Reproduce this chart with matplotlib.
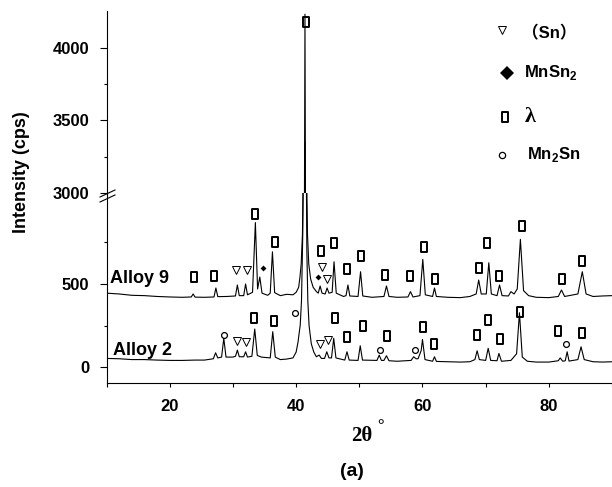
import numpy as np
import matplotlib
matplotlib.use("Agg")
import matplotlib.pyplot as plt
from matplotlib.path import Path
from matplotlib.lines import Line2D

plt.rcParams['font.family'] = ['Liberation Sans', 'Noto Sans CJK SC', 'DejaVu Sans']
plt.rcParams['font.weight'] = 'bold'
plt.rcParams['mathtext.fontset'] = 'custom'
plt.rcParams['mathtext.rm'] = 'Liberation Sans:bold'
plt.rcParams['mathtext.bf'] = 'Liberation Sans:bold'

# XRD traces: (2theta, counts)
alloy9 = [(10, 445), (12, 440), (14, 432), (16, 430), (18, 425), (20, 422), (22, 420),
          (23.4, 422), (23.7, 440), (24.0, 421), (25.5, 420), (27.0, 422), (27.3, 476),
          (27.6, 424), (29.0, 425), (30.4, 428), (30.7, 494), (31.0, 430), (31.7, 430),
          (32.0, 500), (32.3, 435), (33.1, 450), (33.55, 870), (33.9, 470), (34.25, 542),
          (34.6, 445), (35.5, 432), (35.9, 445), (36.25, 694), (36.6, 448), (37.5, 430),
          (38.5, 438), (39.5, 435), (40.0, 450), (40.4, 480), (40.6, 540), (40.8, 620),
          (41.0, 800), (41.15, 1200), (41.27, 2200), (41.4, 4230), (41.53, 2200),
          (41.65, 1200), (41.8, 800), (42.0, 620), (42.3, 530), (42.7, 480), (43.2, 455),
          (43.5, 445), (43.8, 488), (44.1, 445),
          (44.6, 440), (44.9, 476), (45.2, 445), (45.7, 450), (46.0, 634), (46.35, 445),
          (47.5, 425), (47.9, 430), (48.2, 494), (48.5, 428), (49.8, 425), (50.2, 574),
          (50.55, 428), (52, 420), (53.9, 425), (54.3, 488), (54.7, 425), (56, 420),
          (57.7, 422), (58.1, 454), (58.5, 422), (59.6, 430), (60.05, 648), (60.45, 435),
          (61.6, 425), (61.9, 476), (62.2, 425), (64, 420), (66, 418), (67.5, 425),
          (68.5, 440), (68.9, 524), (69.3, 440), (70.1, 440), (70.5, 628), (70.9, 440),
          (71.8, 430), (72.2, 494), (72.6, 430), (73.6, 428), (74.0, 454), (74.5, 440),
          (75.0, 470), (75.5, 769), (76.0, 460), (76.8, 430), (78, 420), (80, 418),
          (81.5, 425), (82.0, 464), (82.5, 425), (84.6, 440), (85.3, 574), (85.9, 440),
          (87, 425), (88.5, 428), (90, 430)]

alloy2 = [(10, 52), (12, 50), (14, 45), (16, 45), (18, 42), (20, 40), (22, 40), (24, 42),
          (25.5, 42), (26.9, 50), (27.25, 86), (27.6, 55), (28.2, 60), (28.55, 173),
          (28.9, 60), (30.0, 60), (30.4, 65), (30.7, 102), (31.0, 62), (31.7, 62),
          (32.0, 92), (32.3, 60), (33.0, 65), (33.45, 229), (33.85, 70), (34.5, 60),
          (35.9, 55), (36.3, 213), (36.7, 60), (37.5, 45), (38.5, 48), (39.5, 55),
          (40.0, 90), (40.3, 150), (40.5, 210), (40.65, 253), (40.85, 400), (41.05, 800),
          (41.2, 1500), (41.4, 3350), (41.55, 1500), (41.7, 700), (41.85, 400),
          (42.05, 250), (42.4, 140), (42.8, 90), (43.2, 62), (43.65, 72), (44.0, 52),
          (44.5, 52), (44.85, 92),
          (45.2, 55), (45.6, 55), (45.95, 173), (46.3, 55), (47.7, 42), (48.05, 92),
          (48.4, 42), (49.8, 40), (50.15, 128), (50.5, 42), (52.8, 40), (53.15, 72),
          (53.5, 40), (53.9, 40), (54.3, 68), (54.7, 38), (56, 35), (58.2, 40), (58.6, 62),
          (59.0, 50), (59.3, 50), (59.8, 100), (60.0, 166), (60.4, 45), (61.6, 35),
          (61.9, 62), (62.2, 34), (64, 32), (66, 30), (67.5, 32), (68.3, 45), (68.65, 98),
          (69.0, 45), (70.0, 40), (70.4, 113), (70.8, 40), (71.8, 38), (72.1, 82),
          (72.5, 35), (74.0, 40), (74.9, 80), (75.35, 327), (75.8, 60), (76.6, 35),
          (78, 30), (80, 30), (81.5, 38), (81.8, 55), (82.2, 35), (82.6, 38), (82.9, 92),
          (83.2, 36), (84.6, 45), (85.1, 122), (85.6, 45), (87, 32), (88.5, 30), (90, 32)]

# phase markers (2theta, y)
lambda_marks = [(23.8, 544), (27.0, 548), (33.5, 920), (36.6, 751), (43.9, 700), (46.0, 745),
                (48.05, 590), (50.3, 669), (54.1, 554), (58.1, 550), (60.3, 725), (62.0, 530),
                (68.9, 594), (70.2, 745), (72.1, 550), (75.7, 849), (82.1, 530), (85.3, 640),
                (33.35, 293), (36.5, 279), (46.1, 293), (48.1, 183), (50.6, 249), (54.4, 187),
                (60.07, 243), (61.9, 139), (68.66, 193), (70.3, 283), (72.3, 166), (75.45, 333),
                (81.5, 219), (85.2, 203)]
lambda_top = [(41.57, 4173)]
sn_marks = [(30.45, 584), (32.15, 584), (44.05, 600), (44.95, 530),
            (30.7, 157), (32.0, 149), (43.85, 136), (45.0, 163)]
mnsn2_marks = [(34.8, 594), (43.5, 540)]
mn2sn_marks = [(28.55, 193), (39.8, 323), (53.3, 102), (58.85, 102), (82.7, 139)]

rect = Path([(-0.33, -0.5), (0.33, -0.5), (0.33, 0.5), (-0.33, 0.5), (-0.33, -0.5)],
            [Path.MOVETO, Path.LINETO, Path.LINETO, Path.LINETO, Path.CLOSEPOLY])

W, H = 612, 487
fig = plt.figure(figsize=(W / 100, H / 100), dpi=100)
left, right = 106.6 / W, 1.0
y_axis, y_break, y_top = 1 - 383 / H, 1 - 193 / H, 1 - 11 / H
ax_b = fig.add_axes([left, y_axis, right - left, y_break - y_axis])
ax_t = fig.add_axes([left, y_break, right - left, y_top - y_break], sharex=ax_b)

for ax in (ax_b, ax_t):
    for data in (alloy9, alloy2):
        xs, ys = np.array(data).T
        ax.plot(xs, ys, color='black', lw=0.8)
    ax.spines['top'].set_visible(False)
    ax.spines['right'].set_visible(False)
    ax.tick_params(axis='y', which='major', direction='out', length=7 * 0.72, width=0.8,
                   labelsize=12, pad=7.5)
    ax.tick_params(axis='y', which='minor', direction='out', length=3.5 * 0.72, width=0.8)

def marks(ax, pts, **kw):
    xs, ys = np.array(pts).T
    ax.plot(xs, ys, ls='none', color='black', clip_on=False, **kw)

marks(ax_b, lambda_marks, marker=rect, ms=7.5, mfc='none', mew=1.4)
marks(ax_t, lambda_top, marker=rect, ms=7.5, mfc='none', mew=1.4)
marks(ax_b, sn_marks, marker='v', ms=6, mfc='none', mew=0.7)
marks(ax_b, mnsn2_marks, marker='D', ms=3, mfc='black', mew=0)
marks(ax_b, mn2sn_marks, marker='o', ms=4.2, mfc='none', mew=0.9)

ax_t.spines['bottom'].set_visible(False)
ax_t.set_ylim(3000, 4252)
ax_t.set_yticks([3000, 3500, 4000])
ax_t.set_yticks([3250, 3750], minor=True)
ax_t.tick_params(axis='x', which='both', bottom=False, labelbottom=False)

ax_b.set_ylim(-96, 1048)
ax_b.set_yticks([0, 500])
ax_b.set_yticks([250, 750], minor=True)
ax_b.set_xlim(10, 90)
ax_b.set_xticks([20, 40, 60, 80])
ax_b.set_xticks([10, 30, 50, 70, 90], minor=True)
ax_b.tick_params(axis='x', which='both', direction='out', length=3.5 * 0.72, width=0.8,
                 labelsize=12, pad=9)
for lbl in ax_b.get_xticklabels() + ax_b.get_yticklabels() + ax_t.get_yticklabels():
    lbl.set_fontweight('bold')

# axis break marks
for dy in (0, 5):
    fig.add_artist(Line2D([100 / W, 115 / W], [1 - (202 - dy) / H, 1 - (195 - dy) / H],
                          color='black', lw=0.8))

fig.text(22 / W, 1 - 172 / H, 'Intensity (cps)', rotation=90, ha='center', va='center',
         fontsize=13, fontweight='bold')
fig.text(110 / W, 1 - 282.7 / H, 'Alloy 9', ha='left', va='baseline', fontsize=13,
         fontweight='bold')
fig.text(113 / W, 1 - 355 / H, 'Alloy 2', ha='left', va='baseline', fontsize=13,
         fontweight='bold')
fig.text(362 / W, 1 - 436 / H, '2θ', ha='center', va='center', fontsize=15,
         fontweight='bold', family='Liberation Serif')
fig.text(381 / W, 1 - 426 / H, '°', ha='center', va='center', fontsize=12,
         family='Liberation Serif')
fig.text(352 / W, 1 - 472 / H, '(a)', ha='center', va='center', fontsize=14,
         fontweight='bold')

# phase legend
leg_marks = [(501.7, 30, 'v', 5.5, 'none', 0.7), (506.7, 73, 'D', 7, 'black', 0),
             (505, 117, rect, 7.5, 'none', 1.4), (501.7, 155, 'o', 4.5, 'none', 0.9)]
for px, py, m, ms, fc, mew in leg_marks:
    fig.add_artist(Line2D([px / W], [1 - py / H], marker=m, ms=ms, mfc=fc, mec='black',
                          mew=mew, ls='none'))
fig.text(522 / W, 1 - 33 / H, '（Sn）', ha='left', va='center', fontsize=12,
         fontweight='bold')
fig.text(524 / W, 1 - 73 / H, 'MnSn$_\\mathbf{2}$', ha='left', va='center', fontsize=12)
fig.text(525 / W, 1 - 117 / H, 'λ', ha='left', va='center', fontsize=16,
         family='Liberation Serif')
fig.text(527 / W, 1 - 155 / H, 'Mn$_\\mathbf{2}$Sn', ha='left', va='center', fontsize=12)

fig.savefig('out.png', dpi=100)
